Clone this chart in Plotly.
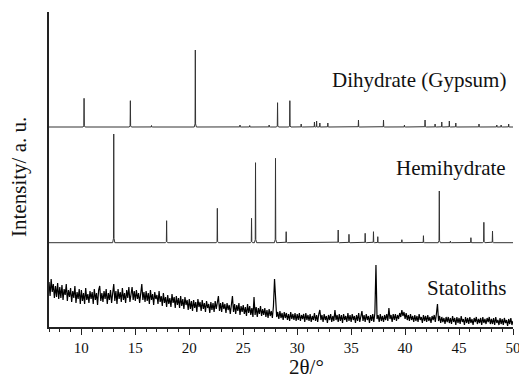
import plotly.graph_objects as go

# ---------------- data ----------------
# Dihydrate (Gypsum) reference pattern: peak position (2θ) and height (a.u.)
gyp_pos = [10.25, 14.54, 16.5, 20.56, 24.7, 25.6, 27.4, 28.18, 29.32, 30.37,
           31.6, 31.8, 32.1, 32.84, 35.68, 38.0, 39.94, 41.85, 42.78, 43.4,
           44.1, 44.7, 46.85, 48.5, 48.9, 49.6]
gyp_int = [28.7, 26.3, 1.5, 77, 2, 1.5, 2, 24.3, 26.3, 3,
           5, 6, 4, 4, 7, 7, 2, 7, 3, 5,
           6, 4, 3, 2, 2, 3]
gyp_offset = 200

# Hemihydrate reference pattern
hem_pos = [13.0, 17.9, 22.6, 25.77, 26.14, 27.99, 28.98, 33.8, 34.8, 36.3,
           37.07, 37.47, 39.7, 41.7, 43.17, 44.2, 46.1, 47.3, 48.1]
hem_int = [108.7, 22, 34.4, 24.4, 80, 84.4, 11, 12.7, 8.4, 9.4,
           11, 6, 3, 7, 51.7, 1.5, 5, 20.4, 11.7]
hem_offset = 84.3

# Statoliths measured pattern, 2θ = 7.0 ... 50.0 step 0.1 (one row per degree)
stat_start = 7.0
stat_step = 0.1
stat_int = [
    45, 31, 48, 35, 43, 29, 41, 30, 44, 28,   # 7
    40, 29, 42, 27, 38, 32, 43, 26, 37, 30,   # 8
    39, 25, 36, 29, 41, 24, 35, 28, 38, 23,   # 9
    37, 26, 34, 23, 39, 27, 33, 24, 36, 28,   # 10
    35, 23, 38, 27, 34, 22, 37, 41, 26, 34,   # 11
    25, 36, 28, 38, 23, 34, 27, 37, 24, 35,   # 12
    43, 26, 36, 23, 38, 28, 35, 25, 39, 27,   # 13
    34, 24, 37, 29, 40, 25, 35, 40, 27, 36,   # 14
    26, 37, 28, 34, 24, 38, 43, 27, 35, 25,   # 15
    36, 26, 34, 23, 37, 27, 33, 22, 35, 28,   # 16
    32, 23, 36, 25, 31, 21, 34, 24, 30, 20,   # 17
    32, 23, 29, 20, 33, 24, 30, 19, 31, 22,   # 18
    29, 19, 31, 21, 28, 18, 30, 22, 27, 17,   # 19
    28, 18, 26, 16, 27, 19, 25, 15, 28, 20,   # 20
    25, 16, 27, 18, 24, 15, 26, 19, 23, 14,   # 21
    25, 17, 24, 15, 26, 18, 23, 31, 16, 24,   # 22
    15, 25, 18, 23, 14, 24, 17, 22, 13, 23,   # 23
    31, 15, 23, 13, 22, 16, 24, 12, 21, 15,   # 24
    22, 13, 20, 11, 23, 14, 21, 12, 19, 10,   # 25
    30, 12, 20, 10, 19, 13, 21, 11, 18, 12,   # 26
    19, 10, 17, 9, 18, 11, 16, 9, 21, 48,     # 27
    19, 10, 15, 8, 16, 9, 14, 7, 15, 9,       # 28
    14, 7, 13, 6, 15, 8, 13, 7, 14, 6,        # 29
    13, 7, 14, 6, 12, 8, 13, 5, 14, 7,        # 30
    12, 6, 13, 5, 11, 7, 14, 6, 12, 5,        # 31
    13, 17, 7, 12, 5, 13, 7, 11, 4, 12,       # 32
    7, 13, 5, 11, 6, 17, 7, 12, 5, 13,        # 33
    6, 12, 4, 13, 7, 11, 5, 14, 6, 12,        # 34
    5, 13, 7, 11, 4, 12, 6, 14, 5, 11,        # 35
    16, 6, 12, 5, 13, 7, 11, 4, 12, 6,        # 36
    13, 5, 14, 62, 8, 12, 5, 13, 6, 11,       # 37
    5, 12, 7, 13, 6, 19, 8, 12, 5, 13,        # 38
    7, 13, 6, 12, 8, 14, 10, 17, 11, 15,      # 39
    8, 14, 7, 12, 6, 13, 7, 11, 5, 12,        # 40
    6, 11, 5, 13, 7, 10, 4, 12, 6, 11,        # 41
    5, 12, 6, 10, 4, 11, 7, 12, 5, 13,        # 42
    23, 6, 11, 4, 10, 5, 9, 3, 10, 5,         # 43
    10, 4, 9, 3, 11, 5, 9, 2, 10, 4,          # 44
    9, 3, 11, 5, 8, 2, 10, 4, 9, 3,           # 45
    10, 4, 8, 2, 9, 5, 10, 3, 8, 4,           # 46
    9, 2, 10, 4, 8, 3, 9, 5, 10, 3,           # 47
    8, 3, 9, 2, 10, 4, 7, 2, 9, 3,            # 48
    8, 2, 9, 4, 7, 1, 8, 3, 9, 2,             # 49
    6,                                        # 50
]

labels = ["Dihydrate (Gypsum)", "Hemihydrate", "Statoliths"]
label_y = [247, 159, 39.3]
x_ticks = [10, 15, 20, 25, 30, 35, 40, 45, 50]
x_min, x_max = 7, 50

FONT = "Liberation Serif"


def stick_profile(pos, inten, offset):
    xs, ys = [x_min], [offset]
    for p, h in zip(pos, inten):
        xs += [p - 0.1, p - 0.025, p, p + 0.025, p + 0.1]
        ys += [offset, offset + 0.04 * h, offset + h, offset + 0.04 * h, offset]
    xs.append(x_max)
    ys.append(offset)
    return xs, ys


fig = go.Figure()

gx, gy = stick_profile(gyp_pos, gyp_int, gyp_offset)
fig.add_trace(go.Scatter(x=gx, y=gy, mode="lines",
                         line=dict(color="#333333", width=1), showlegend=False))
hx, hy = stick_profile(hem_pos, hem_int, hem_offset)
fig.add_trace(go.Scatter(x=hx, y=hy, mode="lines",
                         line=dict(color="#333333", width=1), showlegend=False))
sx = [round(stat_start + i * stat_step, 2) for i in range(len(stat_int))]
fig.add_trace(go.Scatter(x=sx, y=stat_int, mode="lines",
                         line=dict(color="#000000", width=1.2), showlegend=False))

for txt, yv in zip(labels, label_y):
    fig.add_annotation(x=49.54, y=yv, xref="x", yref="y", text=txt,
                       showarrow=False, xanchor="right", yanchor="middle",
                       font=dict(family=FONT, size=21, color="#111111"))

fig.add_annotation(x=0.554, y=-0.127, xref="paper", yref="paper",
                   text="2θ/°", showarrow=False, xanchor="center", yanchor="middle",
                   font=dict(family=FONT, size=21, color="#111111"))
fig.add_annotation(x=-0.0635, y=0.475, xref="paper", yref="paper",
                   text="Intensity/ a. u.", showarrow=False, textangle=-90,
                   xanchor="center", yanchor="middle",
                   font=dict(family=FONT, size=21, color="#111111"))

fig.update_xaxes(range=[x_min, x_max], tickvals=x_ticks, ticks="outside",
                 ticklen=6, tickwidth=1, tickcolor="#222222",
                 minor=dict(dtick=1, tick0=7, ticks="outside", ticklen=3,
                            tickwidth=1, tickcolor="#222222"),
                 showline=True, linecolor="#222222", linewidth=1.5,
                 showgrid=False, zeroline=False,
                 tickfont=dict(family=FONT, size=15, color="#111111"))
fig.update_yaxes(range=[0, 315], showline=True, linecolor="#222222", linewidth=1.5,
                 showticklabels=False, ticks="", showgrid=False, zeroline=False)

# page body has an 8px margin: size the figure so it fills the 527x379 window
fig.update_layout(width=519, height=371,
                  margin=dict(l=41, r=14, t=4, b=52),
                  plot_bgcolor="white", paper_bgcolor="white",
                  font=dict(family=FONT),
                  showlegend=False)

fig.write_html("out.html")
